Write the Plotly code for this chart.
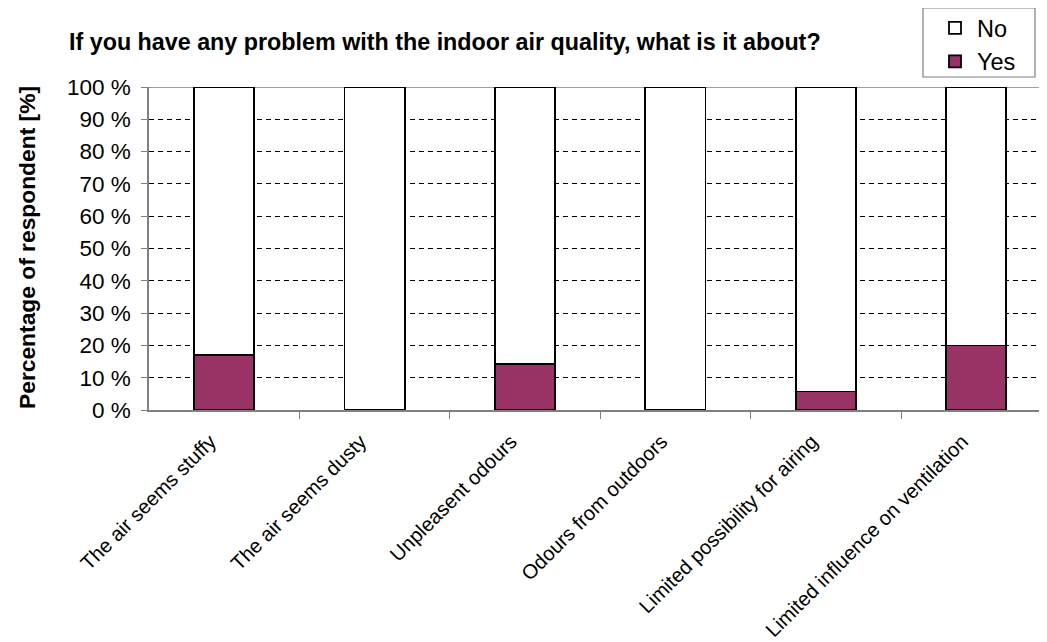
import plotly.graph_objects as go

categories = ["The air seems stuffy", "The air seems dusty", "Unpleasent odours",
              "Odours from outdoors", "Limited possibility for airing",
              "Limited influence on ventilation"]
yes_values = [17.1, 0, 14.3, 0, 5.7, 20.0]
no_values = [100 - v for v in yes_values]

FONT = "Liberation Sans, Arial, sans-serif"
OFF = 8  # page body margin offset
W, H = 1047 - OFF, 642 - OFF
# target screen positions of plot area: left 149, top 87, bottom 410, right edge of window
L, T = 149 - OFF, 87 - OFF
PB = 410 - OFF
R, B = 0, H - PB
PW, PH = W - L - R, PB - T
CAT = 150.4  # px per category
x_max = -0.5 + PW / CAT


def px(x):
    return (x - OFF - L) / PW


def py(y):
    return (PB - (y - OFF)) / PH


fig = go.Figure()
fig.add_trace(go.Bar(x=list(range(len(categories))), y=yes_values, name="Yes", width=0.4,
                     marker=dict(color="#993366", line=dict(color="black", width=1.8))))
fig.add_trace(go.Bar(x=list(range(len(categories))), y=no_values, name="No", width=0.4,
                     marker=dict(color="white", line=dict(color="black", width=1.8))))

fig.update_layout(
    width=W, height=H,
    barmode="stack",
    paper_bgcolor="white", plot_bgcolor="white",
    margin=dict(l=L, r=R, t=T, b=B, autoexpand=False),
    font=dict(family=FONT, color="black"),
    showlegend=True,
    legend=dict(x=px(933), y=py(6), xanchor="left", yanchor="top",
                traceorder="reversed",
                borderwidth=0, bgcolor="rgba(0,0,0,0)",
                font=dict(size=23.5, family=FONT), itemwidth=34,
                tracegroupgap=0),
    xaxis=dict(
        tickmode="array", tickvals=list(range(len(categories))), ticktext=categories,
        tickangle=-45, tickfont=dict(size=20.2, family=FONT),
        showline=True, linecolor="#808080", linewidth=1.5,
        ticks="", ticklabelshift=-14, ticklabelstandoff=10,
        showgrid=False, range=[-0.5, x_max], zeroline=False,
        minor=dict(tickmode="array", tickvals=[i + 0.5 for i in range(len(categories))],
                   ticks="outside", ticklen=7, tickcolor="#808080", showgrid=False),
    ),
    yaxis=dict(
        range=[0, 100], dtick=10, ticksuffix=" %",
        tickfont=dict(size=22.5, family=FONT),
        showline=True, linecolor="#808080", linewidth=1.5,
        ticks="outside", ticklen=6, tickcolor="#808080",
        ticklabelstandoff=6,
        showgrid=True, gridcolor="black", gridwidth=1, griddash="5px,4px",
        zeroline=False,
    ),
    annotations=[
        dict(text="<b>If you have any problem with the indoor air quality, what is it about?</b>",
             x=px(67), y=py(42), xref="paper", yref="paper", showarrow=False,
             font=dict(size=23.3, family=FONT), xanchor="left", yanchor="middle"),
        dict(text="<b>Percentage of respondent [%]</b>", textangle=-90,
             x=px(27), y=py(248), xref="paper", yref="paper", showarrow=False,
             font=dict(size=22.8, family=FONT), xanchor="center", yanchor="middle"),
    ],
)
# top border line at 100 %
fig.add_shape(type="line", xref="paper", yref="y", x0=0, x1=1, y0=100, y1=100,
              line=dict(color="#808080", width=1.5), layer="below")
# legend frame
fig.add_shape(type="rect", xref="paper", yref="paper",
              x0=px(923), x1=px(1035), y0=py(77), y1=py(8),
              line=dict(color="#808080", width=1.2), fillcolor="white", layer="above")

fig.write_html("out.html")
